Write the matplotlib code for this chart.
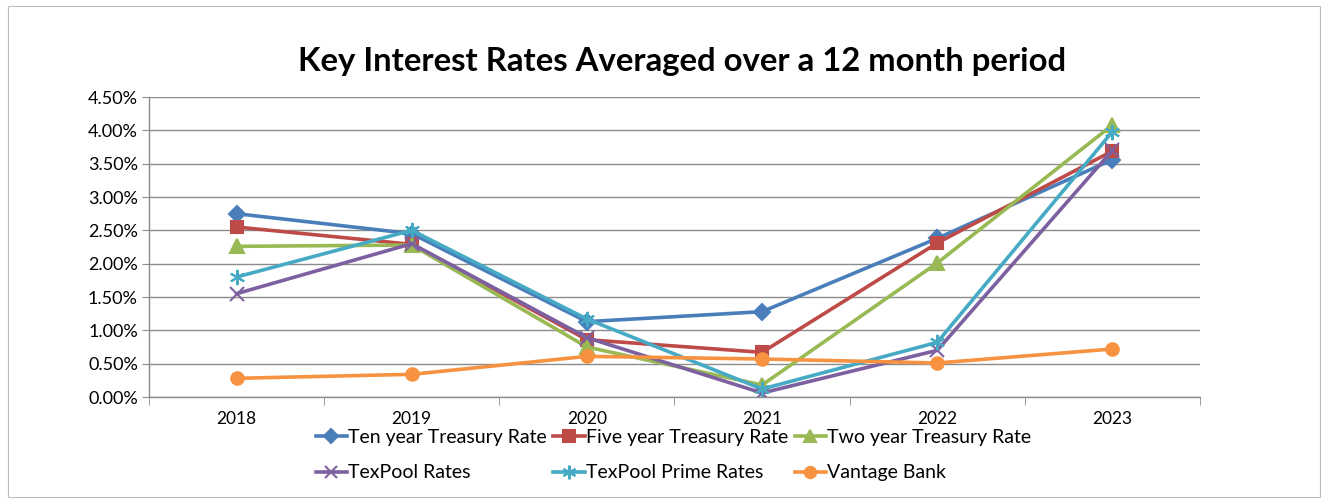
import numpy as np
import matplotlib.pyplot as plt
from matplotlib.ticker import FuncFormatter, MultipleLocator

YEARS = ["2018", "2019", "2020", "2021", "2022", "2023"]
TEN_YEAR = [2.75, 2.45, 1.13, 1.28, 2.38, 3.56]
FIVE_YEAR = [2.55, 2.29, 0.86, 0.67, 2.31, 3.69]
TWO_YEAR = [2.26, 2.28, 0.75, 0.18, 2.01, 4.08]
TEXPOOL = [1.55, 2.30, 0.89, 0.06, 0.70, 3.70]
TEXPOOL_PRIME = [1.80, 2.50, 1.17, 0.12, 0.82, 3.98]
VANTAGE = [0.28, 0.34, 0.61, 0.57, 0.51, 0.72]

SERIES = [
    ("Ten year Treasury Rate", TEN_YEAR, "#4A7EBB", "D", 8),
    ("Five year Treasury Rate", FIVE_YEAR, "#BE4B48", "s", 9),
    ("Two year Treasury Rate", TWO_YEAR, "#98B954", "^", 10),
    ("TexPool Rates", TEXPOOL, "#7D60A0", "x", 10),
    ("TexPool Prime Rates", TEXPOOL_PRIME, "#46AAC5", (6, 2, 0), 11),
    ("Vantage Bank", VANTAGE, "#F69240", "o", 9),
]

plt.rcParams['font.family'] = ['Lato', 'DejaVu Sans']


def main():
    fig = plt.figure(figsize=(13.28, 5.04), dpi=100)
    ax = fig.add_axes([0.1122, 0.2123, 0.7914, 0.5952])
    fig.patches.append(plt.Rectangle((0.006, 0.014), 0.988, 0.975, transform=fig.transFigure,
                                     fill=False, edgecolor="#BFBFBF", linewidth=0.8))

    x = np.arange(len(YEARS))
    handles = []
    for label, values, color, marker, size in SERIES:
        h, = ax.plot(x, values, color=color, linewidth=2.6, marker=marker,
                     markersize=size, markeredgewidth=1.5, markeredgecolor=color,
                     markerfacecolor=color, label=label, solid_joinstyle="round")
        handles.append(h)

    ax.set_xlim(-0.5, len(YEARS) - 0.5)
    ax.set_ylim(0, 4.5)
    ax.yaxis.set_major_locator(MultipleLocator(0.5))
    ax.yaxis.set_major_formatter(FuncFormatter(lambda v, p: f"{v:.2f}%"))
    ax.grid(axis="y", color="#8C8C8C", linewidth=1.0)
    ax.set_axisbelow(True)

    ax.set_xticks(x)
    ax.set_xticklabels(YEARS)
    ax.set_xticks(np.arange(-0.5, len(YEARS)), minor=True)
    ax.tick_params(axis="x", which="major", length=0, pad=10, labelsize=12.5)
    ax.tick_params(axis="x", which="minor", length=6, color="#8C8C8C")
    ax.tick_params(axis="y", length=5, color="#8C8C8C", labelsize=13, pad=3)

    for side in ("top", "right"):
        ax.spines[side].set_visible(False)
    for side in ("left", "bottom"):
        ax.spines[side].set_color("#8C8C8C")
        ax.spines[side].set_linewidth(1.0)

    fig.text(0.5135, 0.878, "Key Interest Rates Averaged over a 12 month period",
             ha="center", va="center", fontsize=23.7, fontweight="bold")

    # legend fills column-first, reorder so rows read left to right
    order = [0, 3, 1, 4, 2, 5]
    fig.legend([handles[i] for i in order], [SERIES[i][0] for i in order],
               ncol=3, loc="center", bbox_to_anchor=(0.507, 0.097),
               frameon=False, fontsize=14, handlelength=1.6, handletextpad=0.05,
               columnspacing=0.35, labelspacing=0.95, markerscale=0.9)

    fig.savefig("out.png", dpi=100)


if __name__ == "__main__":
    main()
